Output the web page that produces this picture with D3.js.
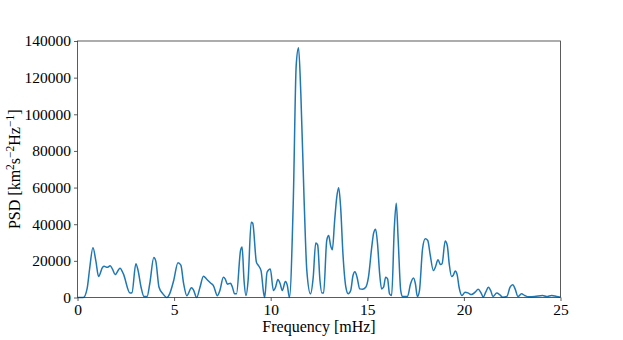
<!DOCTYPE html>
<html>
<head>
<meta charset="utf-8">
<script src="https://cdn.jsdelivr.net/npm/d3@7"></script>
<style>
  body { margin: 0; background: #fff; }
  text { font-family: "Liberation Serif", "DejaVu Serif", serif; fill: #000; }
</style>
</head>
<body>
<script>
// frequency in mHz, PSD in km^2 s^-2 Hz^-1
const freq = [0, 0.3, 0.5, 0.62, 0.8, 0.95, 1.09, 1.3, 1.38, 1.54, 1.69, 1.81, 1.95, 2.2, 2.37, 2.72, 2.82, 3.02, 3.13, 3.29, 3.44, 3.6, 3.74, 3.95, 4.05, 4.22, 4.42, 4.63, 4.77, 4.98, 5.2, 5.35, 5.49, 5.66, 5.9, 6.0, 6.17, 6.34, 6.52, 6.69, 6.9, 7.04, 7.24, 7.37, 7.55, 7.65, 7.76, 7.92, 8.02, 8.13, 8.23, 8.44, 8.52, 8.62, 8.72, 8.83, 8.99, 9.07, 9.26, 9.36, 9.5, 9.63, 9.69, 9.81, 9.98, 10.14, 10.25, 10.37, 10.49, 10.6, 10.76, 10.86, 10.97, 11.17, 11.32, 11.44, 11.56, 11.73, 11.87, 12.06, 12.2, 12.33, 12.43, 12.55, 12.65, 12.74, 12.9, 13.0, 13.1, 13.19, 13.31, 13.42, 13.52, 13.62, 13.74, 13.89, 14.01, 14.14, 14.26, 14.36, 14.47, 14.61, 14.75, 14.92, 15.06, 15.23, 15.33, 15.43, 15.53, 15.64, 15.74, 15.84, 15.95, 16.05, 16.15, 16.26, 16.4, 16.5, 16.6, 16.73, 16.83, 17.08, 17.24, 17.39, 17.49, 17.59, 17.7, 17.86, 18.0, 18.13, 18.25, 18.42, 18.52, 18.66, 18.79, 18.87, 19.03, 19.14, 19.24, 19.36, 19.44, 19.55, 19.65, 19.75, 19.9, 20.06, 20.23, 20.39, 20.58, 20.74, 20.88, 21.0, 21.13, 21.27, 21.4, 21.5, 21.7, 21.85, 22.0, 22.22, 22.39, 22.53, 22.65, 22.8, 22.98, 23.15, 23.35, 23.66, 24.07, 24.28, 24.55, 24.8, 25];
const psd = [0, 0, 5000, 15000, 27100, 20000, 11500, 16500, 17000, 16500, 17300, 15500, 12500, 16000, 13000, 2400, 2600, 18400, 15000, 5600, 500, 500, 7500, 21800, 20000, 5600, 2000, 0, 2000, 9300, 19000, 17700, 7800, 1000, 5300, 4200, 0, 5600, 11600, 10000, 7800, 6400, 1000, 3800, 11000, 10000, 7300, 7800, 5600, 2000, 2000, 25700, 27500, 9300, 1100, 9300, 41100, 40500, 19300, 17500, 14700, 2700, 0, 13800, 15600, 3800, 5600, 9800, 7500, 3800, 8700, 6600, 0, 53000, 126700, 136300, 111200, 53000, 14700, 2000, 11000, 29800, 28700, 9300, 2500, 2500, 31100, 33800, 28400, 26000, 42000, 54800, 59900, 49300, 23700, 5600, 2000, 3800, 12000, 14000, 11100, 4700, 4500, 5600, 11100, 27500, 35300, 37300, 29300, 12900, 4700, 5600, 11100, 10200, 2000, 1100, 38400, 51500, 31100, 3800, 500, 500, 7500, 10700, 7500, 500, 3800, 26600, 32000, 31100, 23700, 14700, 16500, 20600, 18000, 18400, 30800, 28400, 18400, 11500, 12000, 14400, 12500, 5600, 1100, 2900, 2400, 1600, 2900, 4500, 2700, 200, 2900, 5600, 3400, 500, 2400, 1600, 200, 500, 5600, 6900, 4700, 500, 2000, 1100, 400, 500, 1100, 500, 1100, 500, 200];
const xTicks = [0, 5, 10, 15, 20, 25];
const yTicks = [0, 20000, 40000, 60000, 80000, 100000, 120000, 140000];

const data = freq.map((f, i) => ({ f: f, p: psd[i] }));

const W = 623, H = 340;
const m = { left: 77.5, right: 62.5, top: 41, bottom: 42.5 };

const svg = d3.select("body").append("svg")
  .attr("width", W)
  .attr("height", H);

const x = d3.scaleLinear().domain([0, 25]).range([m.left, W - m.right]);
const y = d3.scaleLinear().domain([0, 140000]).range([H - m.bottom, m.top]);

const line = d3.line()
  .x(d => x(d.f))
  .y(d => y(d.p))
  .curve(d3.curveMonotoneX);

svg.append("path")
  .datum(data)
  .attr("d", line)
  .attr("fill", "none")
  .attr("stroke", "#1f77b4")
  .attr("stroke-width", 1.5)
  .attr("stroke-linejoin", "round");

const xAxis = d3.axisBottom(x).tickValues(xTicks).tickFormat(d3.format("d")).tickSize(3.5).tickPadding(3);
const yAxis = d3.axisLeft(y).tickValues(yTicks).tickFormat(d3.format("d")).tickSize(3.5).tickPadding(3);

svg.append("g")
  .attr("transform", `translate(0,${H - m.bottom})`)
  .call(xAxis)
  .call(g => g.select(".domain").remove())
  .call(g => g.selectAll("line").attr("stroke", "#333").attr("stroke-width", 0.8))
  .call(g => g.selectAll("text").attr("font-size", 15.5).attr("font-family", "Liberation Serif").attr("fill", "#000"));

svg.append("g")
  .attr("transform", `translate(${m.left},0)`)
  .call(yAxis)
  .call(g => g.select(".domain").remove())
  .call(g => g.selectAll("line").attr("stroke", "#333").attr("stroke-width", 0.8))
  .call(g => g.selectAll("text").attr("font-size", 15.5).attr("font-family", "Liberation Serif").attr("fill", "#000"));

// frame
svg.append("rect")
  .attr("x", m.left)
  .attr("y", m.top)
  .attr("width", W - m.left - m.right)
  .attr("height", H - m.top - m.bottom)
  .attr("fill", "none")
  .attr("stroke", "#333")
  .attr("stroke-width", 0.8);

svg.append("text")
  .attr("x", (m.left + W - m.right) / 2)
  .attr("y", 332)
  .attr("text-anchor", "middle")
  .attr("font-size", 16)
  .text("Frequency [mHz]");

const yl = svg.append("text")
  .attr("transform", `translate(20,${(m.top + H - m.bottom) / 2}) rotate(-90)`)
  .attr("text-anchor", "middle")
  .attr("font-size", 16);
yl.append("tspan").text("PSD [km");
yl.append("tspan").attr("baseline-shift", "super").attr("font-size", 11.5).text("2");
yl.append("tspan").text("s");
yl.append("tspan").attr("baseline-shift", "super").attr("font-size", 11.5).text("\u22122");
yl.append("tspan").text("Hz");
yl.append("tspan").attr("baseline-shift", "super").attr("font-size", 11.5).text("\u22121");
yl.append("tspan").text("]");
</script>
</body>
</html>
